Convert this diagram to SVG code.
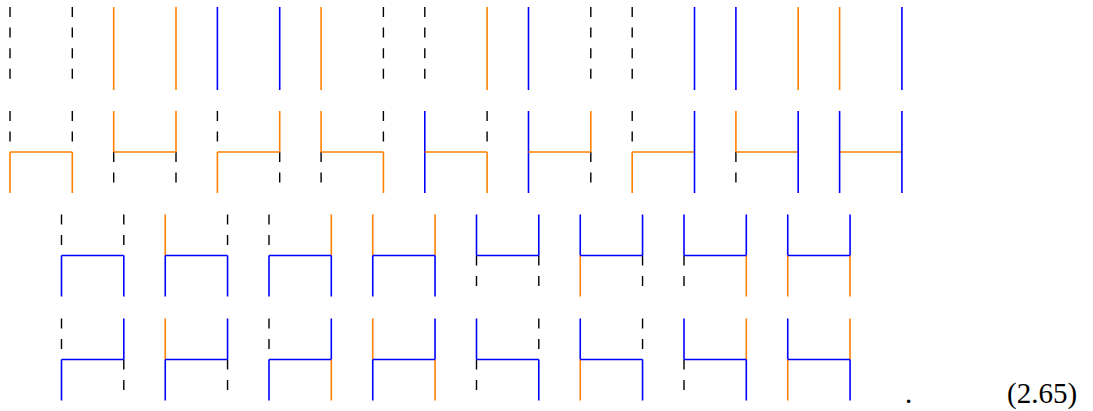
<svg xmlns="http://www.w3.org/2000/svg" width="1093" height="411" viewBox="0 0 1093 411">
<style>
line{fill:none;stroke-linecap:butt}
.o{stroke:#ff8000;stroke-width:1.6}
.b{stroke:#0000ff;stroke-width:1.6}
.d{stroke:#000000;stroke-width:1.4;stroke-dasharray:10 10.6}
text{font-family:"Liberation Serif","DejaVu Serif",serif;font-size:29px;fill:#000}
</style>
<rect width="1093" height="411" fill="#fff"/>
<g id="row1">
<g id="r1n1"><line class="d" x1="10" y1="7" x2="10" y2="89.4"/><line class="d" x1="72.3" y1="7" x2="72.3" y2="89.4"/></g>
<g id="r1n2"><line class="o" x1="113.7" y1="7" x2="113.7" y2="90"/><line class="o" x1="176" y1="7" x2="176" y2="90"/></g>
<g id="r1n3"><line class="b" x1="217.4" y1="7" x2="217.4" y2="90"/><line class="b" x1="279.7" y1="7" x2="279.7" y2="90"/></g>
<g id="r1n4"><line class="o" x1="321.1" y1="7" x2="321.1" y2="90"/><line class="d" x1="383.4" y1="7" x2="383.4" y2="89.4"/></g>
<g id="r1n5"><line class="d" x1="424.8" y1="7" x2="424.8" y2="89.4"/><line class="o" x1="487.1" y1="7" x2="487.1" y2="90"/></g>
<g id="r1n6"><line class="b" x1="528.5" y1="7" x2="528.5" y2="90"/><line class="d" x1="590.8" y1="7" x2="590.8" y2="89.4"/></g>
<g id="r1n7"><line class="d" x1="632.2" y1="7" x2="632.2" y2="89.4"/><line class="b" x1="694.5" y1="7" x2="694.5" y2="90"/></g>
<g id="r1n8"><line class="b" x1="735.9" y1="7" x2="735.9" y2="90"/><line class="o" x1="798.2" y1="7" x2="798.2" y2="90"/></g>
<g id="r1n9"><line class="o" x1="839.6" y1="7" x2="839.6" y2="90"/><line class="b" x1="901.9" y1="7" x2="901.9" y2="90"/></g>
</g>
<g id="row2">
<g id="r2n1"><line class="d" x1="10" y1="111" x2="10" y2="152"/><line class="o" x1="10" y1="152" x2="10" y2="193"/><line class="d" x1="72.3" y1="111" x2="72.3" y2="152"/><line class="o" x1="72.3" y1="152" x2="72.3" y2="193"/><line class="o" x1="10" y1="152" x2="72.3" y2="152"/></g>
<g id="r2n2"><line class="o" x1="113.7" y1="111" x2="113.7" y2="152"/><line class="d" x1="113.7" y1="152" x2="113.7" y2="193"/><line class="o" x1="176" y1="111" x2="176" y2="152"/><line class="d" x1="176" y1="152" x2="176" y2="193"/><line class="o" x1="113.7" y1="152" x2="176" y2="152"/></g>
<g id="r2n3"><line class="d" x1="217.4" y1="111" x2="217.4" y2="152"/><line class="o" x1="217.4" y1="152" x2="217.4" y2="193"/><line class="o" x1="279.7" y1="111" x2="279.7" y2="152"/><line class="d" x1="279.7" y1="152" x2="279.7" y2="193"/><line class="o" x1="217.4" y1="152" x2="279.7" y2="152"/></g>
<g id="r2n4"><line class="o" x1="321.1" y1="111" x2="321.1" y2="152"/><line class="d" x1="321.1" y1="152" x2="321.1" y2="193"/><line class="d" x1="383.4" y1="111" x2="383.4" y2="152"/><line class="o" x1="383.4" y1="152" x2="383.4" y2="193"/><line class="o" x1="321.1" y1="152" x2="383.4" y2="152"/></g>
<g id="r2n5"><line class="b" x1="424.8" y1="111" x2="424.8" y2="193"/><line class="d" x1="487.1" y1="111" x2="487.1" y2="152"/><line class="o" x1="487.1" y1="152" x2="487.1" y2="193"/><line class="o" x1="424.8" y1="152" x2="487.1" y2="152"/></g>
<g id="r2n6"><line class="b" x1="528.5" y1="111" x2="528.5" y2="193"/><line class="o" x1="590.8" y1="111" x2="590.8" y2="152"/><line class="d" x1="590.8" y1="152" x2="590.8" y2="193"/><line class="o" x1="528.5" y1="152" x2="590.8" y2="152"/></g>
<g id="r2n7"><line class="d" x1="632.2" y1="111" x2="632.2" y2="152"/><line class="o" x1="632.2" y1="152" x2="632.2" y2="193"/><line class="o" x1="632.2" y1="152" x2="694.5" y2="152"/><line class="b" x1="694.5" y1="111" x2="694.5" y2="193"/></g>
<g id="r2n8"><line class="o" x1="735.9" y1="111" x2="735.9" y2="152"/><line class="d" x1="735.9" y1="152" x2="735.9" y2="193"/><line class="o" x1="735.9" y1="152" x2="798.2" y2="152"/><line class="b" x1="798.2" y1="111" x2="798.2" y2="193"/></g>
<g id="r2n9"><line class="o" x1="839.6" y1="152" x2="901.9" y2="152"/><line class="b" x1="839.6" y1="111" x2="839.6" y2="193"/><line class="b" x1="901.9" y1="111" x2="901.9" y2="193"/></g>
</g>
<g id="row3">
<g id="r3n1"><line class="d" x1="61.5" y1="214.5" x2="61.5" y2="255.5"/><line class="b" x1="61.5" y1="255.5" x2="61.5" y2="296.5"/><line class="d" x1="123.8" y1="214.5" x2="123.8" y2="255.5"/><line class="b" x1="123.8" y1="255.5" x2="123.8" y2="296.5"/><line class="b" x1="61.5" y1="255.5" x2="123.8" y2="255.5"/></g>
<g id="r3n2"><line class="o" x1="165.25" y1="214.5" x2="165.25" y2="255.5"/><line class="b" x1="165.25" y1="255.5" x2="165.25" y2="296.5"/><line class="d" x1="227.55" y1="214.5" x2="227.55" y2="255.5"/><line class="b" x1="227.55" y1="255.5" x2="227.55" y2="296.5"/><line class="b" x1="165.25" y1="255.5" x2="227.55" y2="255.5"/></g>
<g id="r3n3"><line class="d" x1="269" y1="214.5" x2="269" y2="255.5"/><line class="b" x1="269" y1="255.5" x2="269" y2="296.5"/><line class="o" x1="331.3" y1="214.5" x2="331.3" y2="255.5"/><line class="b" x1="331.3" y1="255.5" x2="331.3" y2="296.5"/><line class="b" x1="269" y1="255.5" x2="331.3" y2="255.5"/></g>
<g id="r3n4"><line class="o" x1="372.75" y1="214.5" x2="372.75" y2="255.5"/><line class="b" x1="372.75" y1="255.5" x2="372.75" y2="296.5"/><line class="o" x1="435.05" y1="214.5" x2="435.05" y2="255.5"/><line class="b" x1="435.05" y1="255.5" x2="435.05" y2="296.5"/><line class="b" x1="372.75" y1="255.5" x2="435.05" y2="255.5"/></g>
<g id="r3n5"><line class="b" x1="476.5" y1="214.5" x2="476.5" y2="255.5"/><line class="d" x1="476.5" y1="255.5" x2="476.5" y2="296.5"/><line class="b" x1="538.8" y1="214.5" x2="538.8" y2="255.5"/><line class="d" x1="538.8" y1="255.5" x2="538.8" y2="296.5"/><line class="b" x1="476.5" y1="255.5" x2="538.8" y2="255.5"/></g>
<g id="r3n6"><line class="b" x1="580.25" y1="214.5" x2="580.25" y2="255.5"/><line class="o" x1="580.25" y1="255.5" x2="580.25" y2="296.5"/><line class="b" x1="642.55" y1="214.5" x2="642.55" y2="255.5"/><line class="d" x1="642.55" y1="255.5" x2="642.55" y2="296.5"/><line class="b" x1="580.25" y1="255.5" x2="642.55" y2="255.5"/></g>
<g id="r3n7"><line class="b" x1="684" y1="214.5" x2="684" y2="255.5"/><line class="d" x1="684" y1="255.5" x2="684" y2="296.5"/><line class="b" x1="746.3" y1="214.5" x2="746.3" y2="255.5"/><line class="o" x1="746.3" y1="255.5" x2="746.3" y2="296.5"/><line class="b" x1="684" y1="255.5" x2="746.3" y2="255.5"/></g>
<g id="r3n8"><line class="b" x1="787.75" y1="214.5" x2="787.75" y2="255.5"/><line class="o" x1="787.75" y1="255.5" x2="787.75" y2="296.5"/><line class="b" x1="850.05" y1="214.5" x2="850.05" y2="255.5"/><line class="o" x1="850.05" y1="255.5" x2="850.05" y2="296.5"/><line class="b" x1="787.75" y1="255.5" x2="850.05" y2="255.5"/></g>
</g>
<g id="row4">
<g id="r4n1"><line class="d" x1="61.5" y1="318.5" x2="61.5" y2="359.5"/><line class="b" x1="61.5" y1="359.5" x2="61.5" y2="400.5"/><line class="b" x1="123.8" y1="318.5" x2="123.8" y2="359.5"/><line class="d" x1="123.8" y1="359.5" x2="123.8" y2="400.5"/><line class="b" x1="61.5" y1="359.5" x2="123.8" y2="359.5"/></g>
<g id="r4n2"><line class="o" x1="165.25" y1="318.5" x2="165.25" y2="359.5"/><line class="b" x1="165.25" y1="359.5" x2="165.25" y2="400.5"/><line class="b" x1="227.55" y1="318.5" x2="227.55" y2="359.5"/><line class="d" x1="227.55" y1="359.5" x2="227.55" y2="400.5"/><line class="b" x1="165.25" y1="359.5" x2="227.55" y2="359.5"/></g>
<g id="r4n3"><line class="d" x1="269" y1="318.5" x2="269" y2="359.5"/><line class="b" x1="269" y1="359.5" x2="269" y2="400.5"/><line class="b" x1="331.3" y1="318.5" x2="331.3" y2="359.5"/><line class="o" x1="331.3" y1="359.5" x2="331.3" y2="400.5"/><line class="b" x1="269" y1="359.5" x2="331.3" y2="359.5"/></g>
<g id="r4n4"><line class="o" x1="372.75" y1="318.5" x2="372.75" y2="359.5"/><line class="b" x1="372.75" y1="359.5" x2="372.75" y2="400.5"/><line class="b" x1="435.05" y1="318.5" x2="435.05" y2="359.5"/><line class="o" x1="435.05" y1="359.5" x2="435.05" y2="400.5"/><line class="b" x1="372.75" y1="359.5" x2="435.05" y2="359.5"/></g>
<g id="r4n5"><line class="b" x1="476.5" y1="318.5" x2="476.5" y2="359.5"/><line class="d" x1="476.5" y1="359.5" x2="476.5" y2="400.5"/><line class="d" x1="538.8" y1="318.5" x2="538.8" y2="359.5"/><line class="b" x1="538.8" y1="359.5" x2="538.8" y2="400.5"/><line class="b" x1="476.5" y1="359.5" x2="538.8" y2="359.5"/></g>
<g id="r4n6"><line class="b" x1="580.25" y1="318.5" x2="580.25" y2="359.5"/><line class="o" x1="580.25" y1="359.5" x2="580.25" y2="400.5"/><line class="d" x1="642.55" y1="318.5" x2="642.55" y2="359.5"/><line class="b" x1="642.55" y1="359.5" x2="642.55" y2="400.5"/><line class="b" x1="580.25" y1="359.5" x2="642.55" y2="359.5"/></g>
<g id="r4n7"><line class="b" x1="684" y1="318.5" x2="684" y2="359.5"/><line class="d" x1="684" y1="359.5" x2="684" y2="400.5"/><line class="o" x1="746.3" y1="318.5" x2="746.3" y2="359.5"/><line class="b" x1="746.3" y1="359.5" x2="746.3" y2="400.5"/><line class="b" x1="684" y1="359.5" x2="746.3" y2="359.5"/></g>
<g id="r4n8"><line class="b" x1="787.75" y1="318.5" x2="787.75" y2="359.5"/><line class="o" x1="787.75" y1="359.5" x2="787.75" y2="400.5"/><line class="o" x1="850.05" y1="318.5" x2="850.05" y2="359.5"/><line class="b" x1="850.05" y1="359.5" x2="850.05" y2="400.5"/><line class="b" x1="787.75" y1="359.5" x2="850.05" y2="359.5"/></g>
</g>
<g id="label">
<text x="905" y="403">.</text>
<text x="1007" y="403">(2.65)</text>
</g>
</svg>
